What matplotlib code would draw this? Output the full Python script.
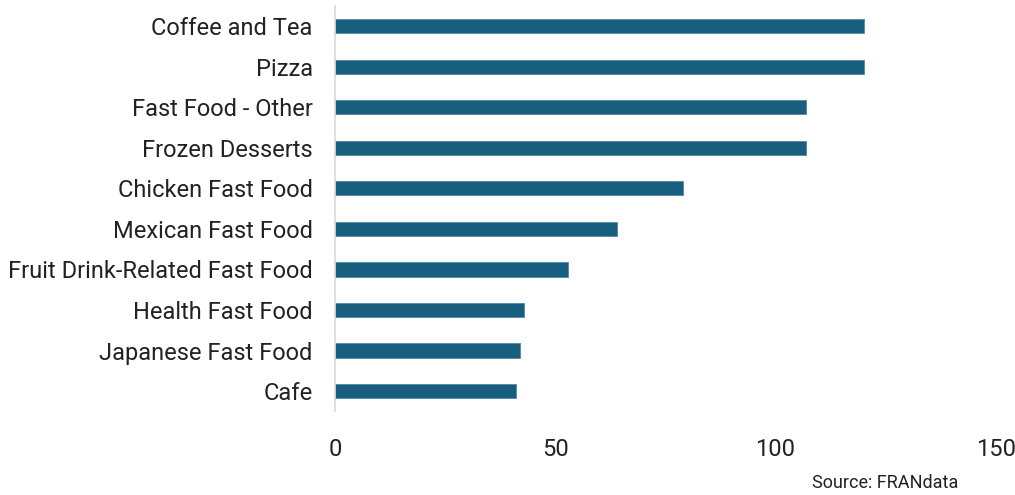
import matplotlib
matplotlib.use("Agg")
import matplotlib.pyplot as plt

categories = ["Coffee and Tea", "Pizza", "Fast Food - Other", "Frozen Desserts",
              "Chicken Fast Food", "Mexican Fast Food", "Fruit Drink-Related Fast Food",
              "Health Fast Food", "Japanese Fast Food", "Cafe"]
values = [120, 120, 107, 107, 79, 64, 53, 43, 42, 41]
xticks = [0, 50, 100, 150]

plt.rcParams['font.family'] = ['Roboto', 'DejaVu Sans']

fig = plt.figure(figsize=(10.15, 4.95), dpi=100)
ax = fig.add_axes([0.330, 0.169, 0.651, 0.819])

ypos = list(range(len(categories)))
ax.barh(ypos, values, height=0.35, color="#175E7F", edgecolor="#4f8aa8", linewidth=0.6)
ax.set_ylim(len(categories) - 0.5, -0.5)
ax.set_xlim(0, 150)
ax.set_yticks(ypos)
ax.set_yticklabels(categories, fontsize=17, color="#222222")
ax.set_xticks(xticks)
ax.set_xticklabels([str(t) for t in xticks], fontsize=17, color="#222222")
ax.tick_params(axis='both', length=0)
ax.tick_params(axis='x', pad=19)
ax.tick_params(axis='y', pad=16)
for s in ["top", "right", "bottom"]:
    ax.spines[s].set_visible(False)
ax.spines["left"].set_color("#d9d9d9")
ax.spines["left"].set_linewidth(1.2)

fig.text(0.800, 0.025, "Source: FRANdata", fontsize=13, color="#222222", ha="left", va="center")

fig.savefig("out.png", dpi=100)
